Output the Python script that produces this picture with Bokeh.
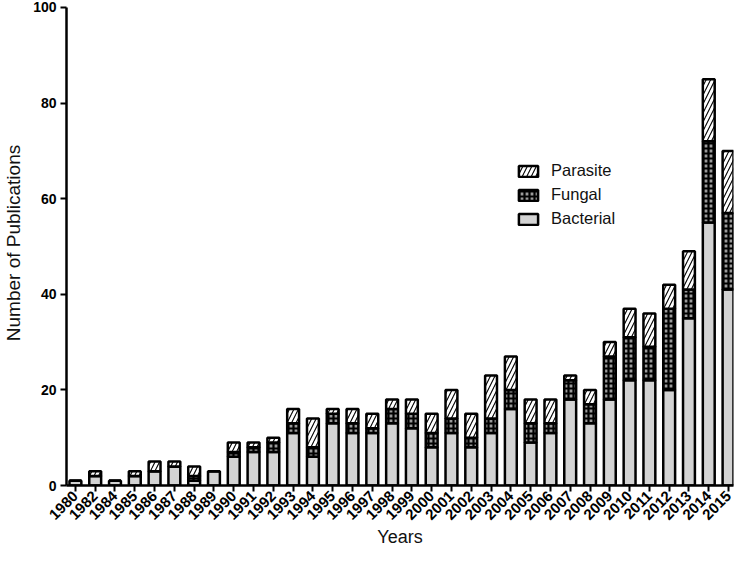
import math
from bokeh.plotting import figure
from bokeh.models import ColumnDataSource, FixedTicker, Legend, LegendItem, Range1d
from bokeh.embed import file_html
from bokeh.resources import INLINE

years = ["1980", "1982", "1984", "1985", "1986", "1987", "1988", "1989", "1990",
         "1991", "1992", "1993", "1994", "1995", "1996", "1997", "1998", "1999",
         "2000", "2001", "2002", "2003", "2004", "2005", "2006", "2007", "2008",
         "2009", "2010", "2011", "2012", "2013", "2014", "2015"]
bacterial = [1, 2, 1, 2, 3, 4, 1, 3, 6, 7, 7, 11, 6, 13, 11, 11, 13, 12, 8, 11, 8,
             11, 16, 9, 11, 18, 13, 18, 22, 22, 20, 35, 55, 41]
fungal = [0, 0, 0, 0, 0, 0, 1, 0, 1, 1, 2, 2, 2, 2, 2, 1, 3, 3, 3, 3, 2,
          3, 4, 4, 2, 4, 4, 9, 9, 7, 17, 6, 17, 16]
parasite = [0, 1, 0, 1, 2, 1, 2, 0, 2, 1, 1, 3, 6, 1, 3, 3, 2, 3, 4, 6, 5,
            9, 7, 5, 5, 1, 3, 3, 6, 7, 5, 8, 13, 13]
y_ticks = [0, 20, 40, 60, 80, 100]
series_names = ["Bacterial", "Fungal", "Parasite"]
x_title = "Years"
y_title = "Number of Publications"

pos = list(range(len(years)))
src = ColumnDataSource(dict(x=pos, bacterial=bacterial, fungal=fungal, parasite=parasite))

FONT = "Liberation Sans"

p = figure(width=734, height=550, output_backend="svg", toolbar_location=None,
           x_range=Range1d(-0.45, 33.25), y_range=Range1d(0, 101.46),
           min_border_left=59, min_border_right=1, min_border_top=0, min_border_bottom=63)
p.outline_line_color = None
p.xgrid.visible = False
p.ygrid.visible = False
p.background_fill_color = "white"

rs = p.vbar_stack(["bacterial", "fungal", "parasite"], x="x", width=0.6, source=src,
                  fill_color=["#d3d3d3", "#9a9a9a", "white"],
                  line_color="black", line_width=2.5,
                  hatch_pattern=[" ", "+", "/"],
                  hatch_color=["black", "black", "black"],
                  hatch_scale=[6, 5, 9],
                  hatch_weight=[1, 2.2, 1.1])

legend = Legend(items=[LegendItem(label=series_names[2], renderers=[rs[2]]),
                       LegendItem(label=series_names[1], renderers=[rs[1]]),
                       LegendItem(label=series_names[0], renderers=[rs[0]])],
                location=(450, 257))
legend.glyph_width = 24
legend.glyph_height = 14
legend.label_height = 16
legend.spacing = 5
legend.padding = 0
legend.margin = 0
legend.label_standoff = 11
legend.border_line_color = None
legend.background_fill_alpha = 0
legend.label_text_font = FONT
legend.label_text_font_size = "16.5px"
legend.label_text_color = "#111111"
p.add_layout(legend)

xa = p.xaxis[0]
xa.ticker = FixedTicker(ticks=pos)
xa.major_label_overrides = {i: y for i, y in zip(pos, years)}
xa.major_label_orientation = math.pi / 4
xa.major_label_text_font = FONT
xa.major_label_text_font_style = "bold"
xa.major_label_text_font_size = "15px"
xa.major_label_text_color = "black"
xa.major_label_standoff = 2
xa.axis_label = x_title
xa.axis_label_text_font = FONT
xa.axis_label_text_font_style = "normal"
xa.axis_label_text_font_size = "18px"
xa.axis_label_text_color = "#111111"
xa.axis_label_standoff = 0
xa.axis_line_width = 2.5
xa.major_tick_line_width = 2
xa.major_tick_out = 6
xa.major_tick_in = 0
xa.minor_tick_line_color = None

ya = p.yaxis[0]
ya.ticker = FixedTicker(ticks=y_ticks)
ya.bounds = (0, 100)
ya.major_label_text_font = FONT
ya.major_label_text_font_style = "bold"
ya.major_label_text_font_size = "14px"
ya.major_label_text_color = "black"
ya.major_label_standoff = 4
ya.axis_label = y_title
ya.axis_label_text_font = FONT
ya.axis_label_text_font_style = "normal"
ya.axis_label_text_font_size = "19px"
ya.axis_label_text_color = "#111111"
ya.axis_label_standoff = 6
ya.axis_line_width = 2.5
ya.major_tick_line_width = 2
ya.major_tick_out = 6
ya.major_tick_in = 0
ya.minor_tick_line_color = None

open("out.html", "w").write(file_html(p, INLINE))
